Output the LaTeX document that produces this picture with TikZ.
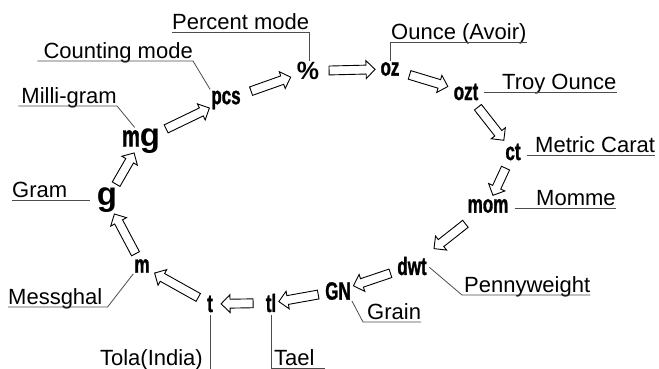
\documentclass[tikz,border=0pt]{standalone}
\usepackage{fontspec}
\setmainfont{Liberation Sans}
\newfontfamily\unitfont[FakeStretch=0.68,FakeBold=1.2]{Liberation Sans}
\usetikzlibrary{shapes.arrows}

\begin{document}
\begin{tikzpicture}[x=1pt,y=-1pt,
  unit node/.style={font=\unitfont\bfseries\fontsize{25}{25}\selectfont,inner sep=1pt},
  label node/.style={font=\fontsize{22}{24}\selectfont,inner xsep=0pt,inner ysep=0pt,text depth=2.5pt},
  lead/.style={draw=black!70,line width=0.8pt},
  blk/.style={single arrow,draw,fill=white,line width=0.9pt,inner sep=0pt,text height=4pt,text depth=4pt,
    minimum width=17pt,single arrow head extend=4.5pt,single arrow head indent=0pt,minimum height=40pt,
    sloped,allow upside down}]

 \useasboundingbox (0,0) rectangle (659,369);

 % units round the loop
 \node[unit node] (pct) at (308,71) {\normalfont\bfseries\%};
 \node[unit node] (oz) at (390,69) {oz};
 \node[unit node] (ozt) at (466,92) {ozt};
 \node[unit node] (ct) at (513,152) {ct};
 \node[unit node] (mom) at (488,206) {mom};
 \node[unit node] (dwt) at (412,266) {dwt};
 \node[unit node] (GN) at (338,291) {GN};
 \node[unit node] (tl) at (271,303) {tl};
 \node[unit node] (t) at (210,304) {t};
 \node[unit node] (m) at (142,266) {m};
 \node[unit node] (g) at (107,200) {\normalfont\bfseries\fontsize{33}{33}\selectfont g};
 \node[unit node] (mg) at (141,141) {{\fontsize{30}{30}\selectfont m}{\normalfont\bfseries\fontsize{33}{33}\selectfont g}};
 \node[unit node] (pcs) at (226,100) {pcs};

 % names
 \node[label node,anchor=south west] (lpct) at (172,32) {Percent mode};
 \node[label node,anchor=south west] (laoz) at (391,42) {Ounce (Avoir)};
 \node[label node,anchor=south west] (ltroy) at (502,92) {Troy Ounce};
 \node[label node,anchor=south west] (lct) at (535,155) {Metric Carat};
 \node[label node,anchor=south west] (lmom) at (536,208) {Momme};
 \node[label node,anchor=south west] (lpen) at (464,295) {Pennyweight};
 \node[label node,anchor=south west] (lgrn) at (367,322) {Grain};
 \node[label node,anchor=south west] (ltael) at (274,368) {Tael};
 \node[label node,anchor=south east] (ltola) at (203,368) {Tola(India)};
 \node[label node,anchor=south west] (lmsg) at (8,307) {Messghal};
 \node[label node,anchor=south west] (lgram) at (12,200) {Gram};
 \node[label node,anchor=south east] (lmgr) at (117,106) {Milli-gram};
 \node[label node,anchor=south east] (lcnt) at (193,61) {Counting mode};
 \coordinate (tbot) at (210,369);

 % leader lines
 \draw[lead] (lpct.south west) -- (lpct.south east) -- (lpct.south east |- pct.north);
 \draw[lead] (laoz.south east) -- ([xshift=-1pt]laoz.south west) -- ([xshift=-1pt]laoz.south west |- oz.north);
 \draw[lead,shorten <=5pt] (ozt.east |- ltroy.south) -- (ltroy.south east);
 \draw[lead,shorten <=5pt] (ct.east |- lct.south) -- (lct.south east);
 \draw[lead,shorten <=5pt] (mom.east |- lmom.south) -- (lmom.south east);
 \draw[lead,shorten <=2pt] (dwt.east) -- ([xshift=-2pt]lpen.south west) -- (lpen.south east);
 \draw[lead] (GN.south east) -- ([xshift=-4pt]lgrn.south west) -- (lgrn.south east);
 \draw[lead,shorten <=2pt] (tl.south) -- (tl.south |- ltael.south) -- ([xshift=10pt]ltael.south east);
 \draw[lead,shorten <=2pt] (t.south) -- (tbot);
 \draw[lead] (lmsg.south west) -- ([xshift=5pt]lmsg.south east) -- (m.south west);
 \draw[lead,shorten >=6pt] (lgram.south west) -- (lgram.south west -| g.west);
 \draw[lead] ([xshift=-3pt]lmgr.south west) -- (lmgr.south east) -- (mg.115);
 \draw[lead] ([xshift=-6pt]lcnt.south west) -- (lcnt.south east) -- (pcs.north west);

 % hollow arrows
 \path (pcs) -- node[blk,minimum height=42pt] {} (pct)
       (pct) -- node[blk,minimum height=46pt] {} (oz)
       (oz) -- node[blk,minimum height=40pt] {} (ozt)
       (ozt) -- node[blk,minimum height=42pt] {} (ct)
       (ct) -- node[blk,minimum height=30pt] {} (mom)
       (mom) -- node[blk,minimum height=40pt] {} (dwt)
       (dwt) -- node[blk,minimum height=39pt] {} (GN)
       (GN) -- node[blk,minimum height=40pt] {} (tl)
       (tl) -- node[blk,minimum height=32pt] {} (t)
       (t) -- node[blk,minimum height=50pt] {} (m)
       (m) -- node[blk,minimum height=45pt] {} (g)
       (g) -- node[blk,minimum height=36pt] {} (mg)
       (mg) -- node[blk,minimum height=48pt] {} (pcs);

\end{tikzpicture}
\end{document}
